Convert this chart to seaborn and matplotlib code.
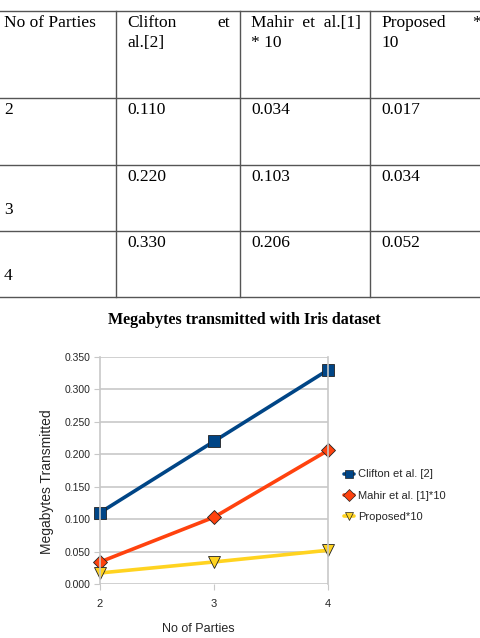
import pandas as pd
import matplotlib.pyplot as plt
import seaborn as sns

# Data
parties = [2, 3, 4]
clifton = [0.110, 0.220, 0.330]
mahir = [0.034, 0.103, 0.206]
proposed = [0.017, 0.034, 0.052]
series_names = ["Clifton et al. [2]", "Mahir et al. [1]*10", "Proposed*10"]
yticks = [0.0, 0.05, 0.10, 0.15, 0.20, 0.25, 0.30, 0.35]

colors = ["#004586", "#ff420e", "#ffd320"]
markers = ["s", "D", "v"]

df = pd.DataFrame({
    "parties": parties * 3,
    "value": clifton + mahir + proposed,
    "series": [s for s in series_names for _ in parties],
})

W, H = 480, 638
fig = plt.figure(figsize=(W / 100, H / 100), dpi=100)

# ---- table drawn at the top ----
serif = "Liberation Serif"
col_x = [0, 116, 240, 370, 480]
row_y = [11, 98, 165, 231, 297]
line_kw = dict(color="#555555", lw=1.0, transform=fig.transFigure)
fx = lambda x: x / W
fy = lambda y: 1 - y / H
for y in row_y:
    fig.add_artist(plt.Line2D([0, 1], [fy(y), fy(y)], **line_kw))
for x in col_x[1:4]:
    fig.add_artist(plt.Line2D([fx(x), fx(x)], [fy(row_y[0]), fy(row_y[-1])], **line_kw))

tkw = dict(family=serif, fontsize=12.5, va="top", ha="left")
fig.text(fx(4), fy(15), "No of Parties", **tkw)
fig.text(fx(127), fy(15), "Clifton", **tkw)
fig.text(fx(230), fy(15), "et", **{**tkw, "ha": "right"})
fig.text(fx(127), fy(35), "al.[2]", **tkw)
fig.text(fx(251), fy(15), "Mahir  et  al.[1]", **tkw)
fig.text(fx(251), fy(35), "* 10", **tkw)
fig.text(fx(381), fy(15), "Proposed", **tkw)
fig.text(fx(481), fy(15), "*", **{**tkw, "ha": "right"})
fig.text(fx(381), fy(35), "10", **tkw)

party_y = [102, 202, 268]
value_y = [102, 169, 235]
for i, p in enumerate(parties):
    fig.text(fx(4), fy(party_y[i]), str(p), **tkw)
    fig.text(fx(127), fy(value_y[i]), f"{clifton[i]:.3f}", **tkw)
    fig.text(fx(251), fy(value_y[i]), f"{mahir[i]:.3f}", **tkw)
    fig.text(fx(381), fy(value_y[i]), f"{proposed[i]:.3f}", **tkw)

fig.text(fx(244), fy(320), "Megabytes transmitted with Iris dataset",
         family=serif, fontsize=11.5, fontweight="bold", ha="center", va="center")

# ---- chart ----
sns.set_style("white")
sans = "Liberation Sans"
ax = fig.add_axes([fx(100), 1 - 584 / H, (328 - 100) / W, (584 - 357) / H])
sns.lineplot(data=df, x="parties", y="value", hue="series", style="series",
             palette=colors, markers=markers, dashes=False, lw=2.6,
             markersize=8, markeredgecolor="#222222", markeredgewidth=0.6,
             ax=ax, legend=False)
# make the markers per series sized like the reference
for line, ms in zip(ax.lines, [9, 7, 8]):
    line.set_markersize(ms)

ax.set_xlim(2, 4)
ax.set_ylim(0, 0.35)
ax.set_xticks(parties)
ax.set_yticks(yticks)
ax.set_yticklabels([f"{v:.3f}" for v in yticks], family=sans, fontsize=7.5)
ax.set_xticklabels([str(p) for p in parties], family=sans, fontsize=8)
ax.grid(axis="y", color="#c8c8c8", lw=1.2)
ax.set_axisbelow(True)
for side in ["top", "bottom"]:
    ax.spines[side].set_visible(False)
for side in ["left", "right"]:
    ax.spines[side].set_color("#c8c8c8")
    ax.spines[side].set_linewidth(1.2)
ax.tick_params(axis="y", length=4, color="#c8c8c8", pad=3, left=True)
ax.tick_params(axis="x", length=4, color="#c8c8c8", pad=7, bottom=True)
for ln in ax.lines:
    ln.set_clip_on(False)

ax.set_xlabel("No of Parties", family=sans, fontsize=9, labelpad=10)
ax.xaxis.set_label_coords(0.43, -0.17)
ax.set_ylabel("Megabytes Transmitted", family=sans, fontsize=10, labelpad=8)
ax.yaxis.set_label_coords(-0.2, 0.45)

handles = [plt.Line2D([], [], color=c, marker=m, lw=2.6, markersize=6,
                      markeredgecolor="#222222", markeredgewidth=0.5)
           for c, m in zip(colors, markers)]
fig.legend(handles, series_names, loc="upper left",
           bbox_to_anchor=(fx(340), fy(465)), frameon=False,
           prop={"family": sans, "size": 8}, handlelength=0.9,
           handletextpad=0.3, labelspacing=1.0, borderaxespad=0)

fig.savefig("out.png", dpi=100)
